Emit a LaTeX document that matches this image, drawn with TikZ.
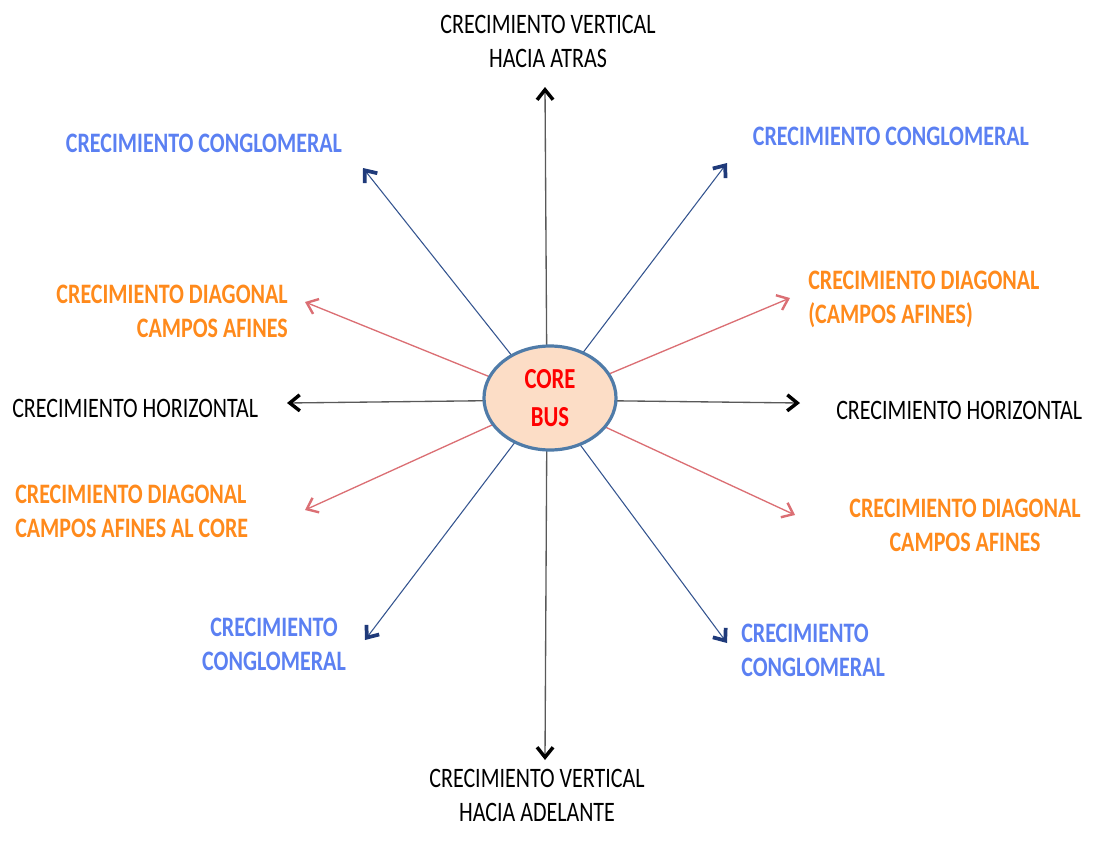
\documentclass[tikz,border=0pt]{standalone}
\usepackage{fontspec}
\setmainfont{Carlito}
\usetikzlibrary{arrows.meta,shapes.geometric}
\definecolor{cblue}{HTML}{5B80F2}
\definecolor{corange}{HTML}{FF8A1C}
\definecolor{lblue}{HTML}{34548F}
\definecolor{hblue}{HTML}{1F3A7A}
\definecolor{lpink}{HTML}{DB6F74}
\definecolor{cfill}{HTML}{FCDDC6}
\definecolor{cborder}{HTML}{4F7BA8}
\newcommand{\vs}[1]{\scalebox{1}[1.28]{#1}}
\begin{document}
\begin{tikzpicture}[x=0.75pt,y=-0.75pt,
  lbl/.style={font=\fontsize{16.5}{25.5}\selectfont, inner sep=0pt},
  blbl/.style={lbl, font=\fontsize{16.5}{25.5}\selectfont\bfseries},
  blk/.style={draw=black!65, line width=1pt, -{Straight Barb[length=7.5pt,width=12pt,line width=2.6pt,color=black]}},
  blu/.style={draw=lblue, line width=0.8pt, -{Straight Barb[length=7.5pt,width=12pt,line width=2.8pt,color=hblue]}},
  pnk/.style={draw=lpink, line width=1pt, -{Straight Barb[length=7.5pt,width=12pt,line width=1.8pt,color=lpink]}}]
\useasboundingbox (0,0) rectangle (1097,847);
% endpoints
\coordinate (up) at (545,87);
\coordinate (dn) at (545,760);
\coordinate (lf) at (287,403);
\coordinate (rt) at (800,403);
\coordinate (bul) at (363,168);
\coordinate (bur) at (727,163);
\coordinate (bll) at (365,640);
\coordinate (blr) at (727,643);
\coordinate (pul) at (305,302);
\coordinate (pur) at (790,298);
\coordinate (pll) at (305,510);
\coordinate (plr) at (795,515);
\coordinate (c) at (547,400);
% connectors
\draw[blk] (c) -- (up);
\draw[blk] (c) -- (dn);
\draw[blk] (c) -- (lf);
\draw[blk] (c) -- (rt);
\draw[blu] (c) -- (bul);
\draw[blu] (c) -- (bur);
\draw[blu] (c) -- (bll);
\draw[blu] (c) -- (blr);
\draw[pnk] (c) -- (pul);
\draw[pnk] (c) -- (pur);
\draw[pnk] (c) -- (pll);
\draw[pnk] (c) -- (plr);
% core
\node[ellipse, draw=cborder, line width=2.4pt, fill=cfill, inner sep=0pt,
  minimum width=99pt, minimum height=78pt, align=center, text=red,
  font=\fontsize{17}{28}\selectfont\bfseries] (core) at (550,398) {\vs{CORE}\\\vs{BUS}};
% labels
\node[lbl, align=center] (t1) at (548,41) {\vs{CRECIMIENTO VERTICAL}\\\vs{HACIA ATRAS}};
\node[lbl, align=center] (t2) at (537,795) {\vs{CRECIMIENTO VERTICAL}\\\vs{HACIA ADELANTE}};
\node[lbl, anchor=west] (t3) at (12,408) {\vs{CRECIMIENTO HORIZONTAL}};
\node[lbl, anchor=west] (t4) at (836,410) {\vs{CRECIMIENTO HORIZONTAL}};
\node[blbl, text=cblue] (t5) at (204,143) {\vs{CRECIMIENTO CONGLOMERAL}};
\node[blbl, text=cblue] (t6) at (891,136) {\vs{CRECIMIENTO CONGLOMERAL}};
\node[blbl, text=cblue, align=center] (t7) at (274,644) {\vs{CRECIMIENTO}\\\vs{CONGLOMERAL}};
\node[blbl, text=cblue, align=left, anchor=west] (t8) at (741,650) {\vs{CRECIMIENTO}\\\vs{CONGLOMERAL}};
\node[blbl, text=corange, align=right, anchor=east] (t9) at (288,311) {\vs{CRECIMIENTO DIAGONAL}\\\vs{CAMPOS AFINES}};
\node[blbl, text=corange, align=left, anchor=west] (t10) at (808,299) {\vs{CRECIMIENTO DIAGONAL}\\\vs{(CAMPOS AFINES)}};
\node[blbl, text=corange, align=left, anchor=west] (t11) at (15,511) {\vs{CRECIMIENTO DIAGONAL}\\\vs{CAMPOS AFINES AL CORE}};
\node[blbl, text=corange, align=center] (t12) at (965,525) {\vs{CRECIMIENTO DIAGONAL}\\\vs{CAMPOS AFINES}};
\end{tikzpicture}
\end{document}
